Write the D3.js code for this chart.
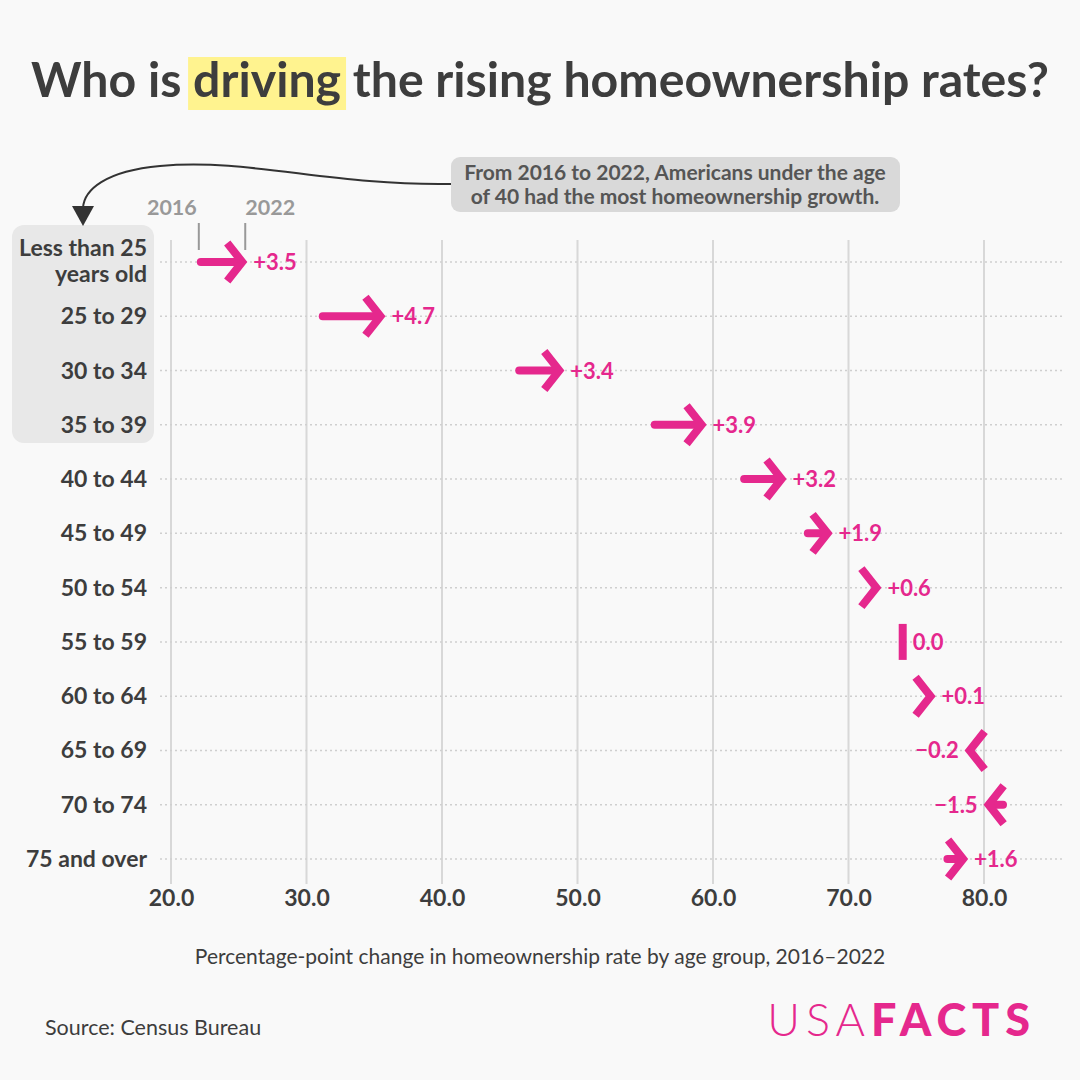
<!DOCTYPE html>
<html><head><meta charset="utf-8">
<script src="https://cdn.jsdelivr.net/npm/d3@7"></script>
<style>
html,body{margin:0;padding:0;background:#f9f9f9;}
svg{display:block;}
</style></head>
<body>
<svg id="chart" width="1080" height="1080"></svg>
<script>
// ---- data ----
const categories = ["Less than 25 years old","25 to 29","30 to 34","35 to 39","40 to 44","45 to 49","50 to 54","55 to 59","60 to 64","65 to 69","70 to 74","75 and over"];
const rate2016 = [22.2, 31.2, 45.7, 55.7, 62.3, 67.0, 71.9, 74.0, 76.4, 78.7, 81.4, 77.3];
const rate2022 = [25.7, 35.9, 49.1, 59.6, 65.5, 68.9, 72.5, 74.0, 76.5, 78.5, 79.9, 78.9];
const changeLabels = ["+3.5","+4.7","+3.4","+3.9","+3.2","+1.9","+0.6","0.0","+0.1","\u22120.2","\u22121.5","+1.6"];
const xTicks = [20, 30, 40, 50, 60, 70, 80];

const PINK = "#e5288d", DARK = "#3d3d3d", FONT = "Lato, 'Noto Sans', sans-serif";
const svg = d3.select("#chart");
svg.append("rect").attr("width",1080).attr("height",1080).attr("fill","#f9f9f9");

const x = d3.scaleLinear().domain([20, 80]).range([171, 984]);
const y = d3.scalePoint().domain(categories).range([262, 859]);

// ---- title ----
const titleText = "Who is driving the rising homeownership rates?";
const tg = svg.append("g");
const hl = tg.append("rect").attr("fill", "#fff38f");
const title = tg.append("text").attr("x", 31).attr("y", 97).attr("font-family",FONT).attr("font-weight",700)
  .attr("font-size", 44).attr("fill", DARK).text(titleText);
const fw = title.node().getComputedTextLength();
title.attr("font-size", 44 * 1018 / fw);
const tn = title.node();
const hs = tn.getStartPositionOfChar(7).x, he = tn.getEndPositionOfChar(13).x;
hl.attr("x", hs - 5).attr("y", 57).attr("width", he - hs + 10).attr("height", 53);

// ---- left panel ----
svg.append("rect").attr("x",12).attr("y",225).attr("width",142).attr("height",218).attr("rx",12).attr("fill","#e8e8e8");

// ---- gridlines ----
svg.append("g").selectAll("line").data(xTicks).join("line")
  .attr("x1", d => x(d)).attr("x2", d => x(d)).attr("y1", 240).attr("y2", 884)
  .attr("stroke", "#d8d8d8").attr("stroke-width", 2);

svg.append("g").selectAll("line").data(categories).join("line")
  .attr("x1", 160).attr("x2", 1065).attr("y1", d => y(d)).attr("y2", d => y(d))
  .attr("stroke", "#cfcfcf").attr("stroke-width", 1.5).attr("stroke-dasharray", "2,3");

// ---- x axis ----
const xAxis = d3.axisBottom(x).tickValues(xTicks).tickFormat(d3.format(".1f")).tickSize(0).tickPadding(0);
const ax = svg.append("g").attr("transform", "translate(0,888)").call(xAxis);
ax.select(".domain").remove();
ax.selectAll("text").attr("font-family", FONT).attr("font-weight", 700).attr("font-size", 23).attr("fill", DARK).attr("dy", "0.8em");

// ---- category labels ----
const LFS = 23;
const labG = svg.append("g");
categories.forEach((c, i) => {
  if (i === 0) {
    labG.append("text").attr("x",147).attr("y", y(c) - 6).attr("text-anchor","end").attr("font-family",FONT).attr("font-weight",700).attr("font-size",LFS).attr("fill",DARK).text("Less than 25");
    labG.append("text").attr("x",147).attr("y", y(c) + 20).attr("text-anchor","end").attr("font-family",FONT).attr("font-weight",700).attr("font-size",LFS).attr("fill",DARK).text("years old");
  } else {
    labG.append("text").attr("x",147).attr("y", y(c) + 8).attr("text-anchor","end")
      .attr("font-family",FONT).attr("font-weight",700).attr("font-size",LFS).attr("fill",DARK).text(c);
  }
});

// ---- arrows ----
const ag = svg.append("g");
const HX = 15, HY = 19, VFS = 22, TIP = 6;
categories.forEach((c, i) => {
  const a = x(rate2016[i]), b = x(rate2022[i]), yy = y(c);
  const g = ag.append("g");
  if (Math.abs(b - a) < 0.5) {
    g.append("line").attr("x1", b).attr("x2", b).attr("y1", yy - 18).attr("y2", yy + 18)
      .attr("stroke", PINK).attr("stroke-width", 8);
    g.append("text").attr("x", b + 10).attr("y", yy + 8).attr("font-family",FONT).attr("font-weight",700)
      .attr("font-size",VFS).attr("fill",PINK).text(changeLabels[i]);
    return;
  }
  const dir = b > a ? 1 : -1;
  const v = b - dir * TIP; // chevron vertex so the mitred tip lands on b
  const lineEnd = v - dir * 3;
  if ((lineEnd - a) * dir > 0) {
    g.append("line").attr("x1", a).attr("x2", lineEnd).attr("y1", yy).attr("y2", yy)
      .attr("stroke", PINK).attr("stroke-width", 8).attr("stroke-linecap", "round");
  }
  g.append("path").attr("d", `M${v - dir*HX},${yy - HY} L${v},${yy} L${v - dir*HX},${yy + HY}`)
    .attr("fill", "none").attr("stroke", PINK).attr("stroke-width", 8).attr("stroke-linejoin", "miter").attr("stroke-miterlimit", 4);
  g.append("text").attr("x", b + dir * 5).attr("y", yy + 8).attr("text-anchor", dir > 0 ? "start" : "end")
    .attr("font-family",FONT).attr("font-weight",700).attr("font-size",VFS).attr("fill",PINK).text(changeLabels[i]);
});

// ---- legend 2016/2022 ----
const lx0 = x(rate2016[0]), lx1 = x(rate2022[0]);
svg.append("line").attr("x1", lx0 - 2).attr("x2", lx0 - 2).attr("y1", 223).attr("y2", 250).attr("stroke","#999").attr("stroke-width",2);
svg.append("line").attr("x1", lx1 - 3).attr("x2", lx1 - 3).attr("y1", 223).attr("y2", 250).attr("stroke","#999").attr("stroke-width",2);
svg.append("text").attr("x", lx0 - 4).attr("y", 215).attr("text-anchor","end").attr("font-family",FONT).attr("font-weight",700).attr("font-size",21.5).attr("fill","#999").text("2016");
svg.append("text").attr("x", lx1 - 3).attr("y", 215).attr("font-family",FONT).attr("font-weight",700).attr("font-size",21.5).attr("fill","#999").text("2022");

// ---- annotation ----
svg.append("path").attr("d","M451,184 C330,186 250,158 160,166 C105,171 84,190 83,208")
  .attr("fill","none").attr("stroke","#333").attr("stroke-width",2);
svg.append("path").attr("d","M72,206 L94,206 L83,226 Z").attr("fill","#333");
svg.append("rect").attr("x",451).attr("y",157).attr("width",449).attr("height",55).attr("rx",9).attr("fill","#d9d9d9");
const an = svg.append("text").attr("text-anchor","middle").attr("font-family",FONT).attr("font-weight",700).attr("font-size",21).attr("fill","#555");
an.append("tspan").attr("x",675).attr("y",180).text("From 2016 to 2022, Americans under the age");
an.append("tspan").attr("x",675).attr("y",204).text("of 40 had the most homeownership growth.");

// ---- axis title, source, logo ----
svg.append("text").attr("x",540).attr("y",964).attr("text-anchor","middle").attr("font-family",FONT).attr("font-size",21).attr("fill",DARK)
  .text("Percentage-point change in homeownership rate by age group, 2016\u20132022");
svg.append("text").attr("x",45).attr("y",1035).attr("font-family",FONT).attr("font-size",21.5).attr("fill",DARK).text("Source: Census Bureau");
const logo = svg.append("text").attr("x",1036).attr("y",1036).attr("text-anchor","end").attr("font-family",FONT).attr("font-size",45).attr("fill",PINK).attr("letter-spacing",6);
logo.append("tspan").attr("font-weight",300).text("USA");
logo.append("tspan").attr("font-weight",900).text("FACTS");
</script>
</body></html>
